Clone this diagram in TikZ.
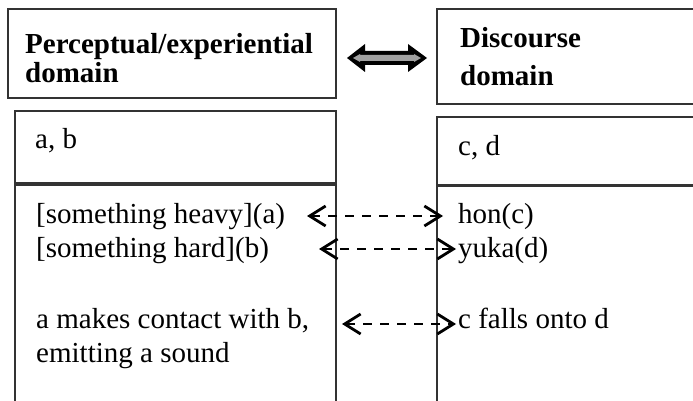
\documentclass[tikz,border=0pt]{standalone}
\usepackage{fontspec}
\setmainfont{Liberation Serif}
\usetikzlibrary{arrows.meta}
\definecolor{boxline}{HTML}{333333}
\definecolor{shaftgray}{HTML}{A0A0A0}
\begin{document}
\begin{tikzpicture}[x=1pt,y=-1pt,
  box/.style={draw=boxline, line width=1.3pt, inner sep=0pt, outer sep=0pt, anchor=north west},
  txt/.style={anchor=base west, inner sep=0pt, font=\fontsize{29}{34}\selectfont},
  btxt/.style={anchor=base west, inner sep=0pt, font=\fontsize{29}{34}\selectfont\bfseries},
  dasharrow/.style={dash pattern=on 8.5pt off 8.5pt, line width=2pt,
    arrows={Straight Barb[length=16pt,width=20pt,line width=2.8pt]-Straight Barb[length=16pt,width=20pt,line width=2.8pt]}}]
\useasboundingbox (0,0) rectangle (693,401);
% boxes
\node[box, minimum width=328pt, minimum height=89pt] (perc) at (8,9) {};
\node[box, minimum width=321pt, minimum height=72pt] (ab) at (15,111) {};
\node[box, minimum width=321pt, minimum height=230pt] (lbody) at (15,185) {};
\node[box, minimum width=270pt, minimum height=95pt] (disc) at (437,9) {};
\node[box, minimum width=270pt, minimum height=68pt] (cd) at (437,117) {};
\node[box, minimum width=270pt, minimum height=230pt] (rbody) at (437,186) {};
% headings
\node[btxt] (h1) at (25,54) {Perceptual/experiential};
\node[btxt] (h2) at (25,83) {domain};
\node[btxt] (h3) at (460,48) {Discourse};
\node[btxt] (h4) at (460,86) {domain};
% texts
\node[txt] (ab1) at (35,148) {a, b};
\node[txt] (cd1) at (458,155) {c, d};
\node[txt] (l1t) at (36,223) {[something heavy](a)};
\node[txt] (l2t) at (36,257) {[something hard](b)};
\node[txt] (l3t) at (36,328) {a makes contact with b,};
\node[txt] (l4t) at (36,362) {emitting a sound};
\node[txt] (r1t) at (458,223) {hon(c)};
\node[txt] (r2t) at (458,257) {yuka(d)};
\node[txt] (r3t) at (458,328) {c falls onto d};
% thick double arrow
\coordinate (dl) at (347,58);
\coordinate (dr) at (427,58);
\fill[black] (dl) -- (365,44) -- (365,51) -- (408,51) -- (408,44) -- (dr)
  -- (408,72) -- (408,65) -- (365,65) -- (365,72) -- cycle;
\fill[shaftgray] (353,58) -- (360,54) -- (360,55) -- (414,55) -- (414,54) -- (421,58)
  -- (414,62) -- (414,61) -- (360,61) -- (360,62) -- cycle;
% dashed arrows
\coordinate (a1l) at (307,216); \coordinate (a1r) at (443,216);
\coordinate (a2l) at (319,249); \coordinate (a2r) at (456,249);
\coordinate (a3l) at (342,324); \coordinate (a3r) at (456,324);
\draw[dasharrow] (a1l) -- (a1r);
\draw[dasharrow] (a2l) -- (a2r);
\draw[dasharrow] (a3l) -- (a3r);
\end{tikzpicture}
\end{document}
